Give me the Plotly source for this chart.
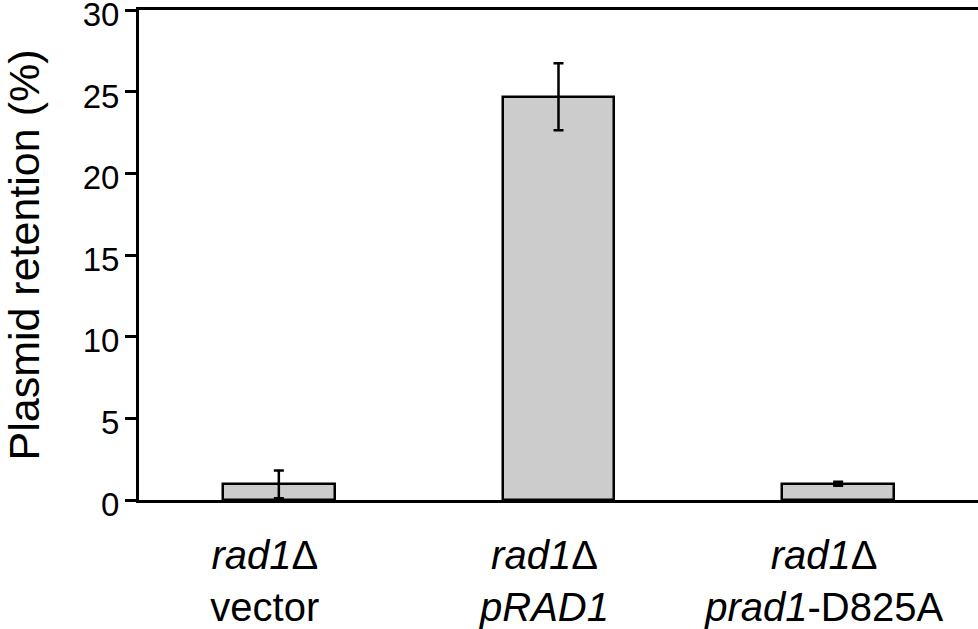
import plotly.graph_objects as go

categories = ["<i>rad1</i>Δ<br>vector", "<i>rad1</i>Δ<br><i>pRAD1</i>", "<i>rad1</i>Δ<br><i>prad1</i>-D825A"]
retention = [0.95, 24.7, 1.0]
errors = [0.85, 2.05, 0.12]
y_ticks = [0, 5, 10, 15, 20, 25, 30]

fig = go.Figure()
fig.add_trace(go.Bar(
    x=[0, 1, 2], y=retention, width=0.4,
    marker=dict(color="#cccccc", line=dict(color="black", width=2.5)),
    error_y=dict(type="data", array=errors, visible=True, color="black", thickness=2.5, width=5),
))

fig.update_layout(
    width=978, height=629,
    margin=dict(l=139, r=0, t=10, b=129, autoexpand=False),
    paper_bgcolor="white", plot_bgcolor="white",
    font=dict(family="Liberation Sans, Arial, sans-serif", color="black"),
    showlegend=False,
    bargap=0,
    xaxis=dict(
        range=[-0.5, 2.5], tickmode="array", tickvals=[0, 1, 2], ticktext=categories,
        showline=True, linecolor="black", linewidth=2.5, mirror=True,
        ticks="", showgrid=False, zeroline=False, automargin=False,
        tickfont=dict(size=40), ticklabelstandoff=18, ticklabelshift=-14,
    ),
    yaxis=dict(
        range=[0, 30.02], tickmode="array", tickvals=y_ticks,
        showline=True, linecolor="black", linewidth=3,
        ticks="outside", ticklen=11, tickwidth=2.5, tickcolor="black",
        showgrid=False, zeroline=False, automargin=False,
        tickfont=dict(size=33), ticklabelstandoff=-1, ticklabelshift=4,
        ticklabeloverflow="allow",
        title=dict(text="Plasmid retention (%)", font=dict(size=43), standoff=45),
    ),
)

fig.write_html("out.html", config={"displayModeBar": False},
               post_script="document.body.style.margin='0';")
